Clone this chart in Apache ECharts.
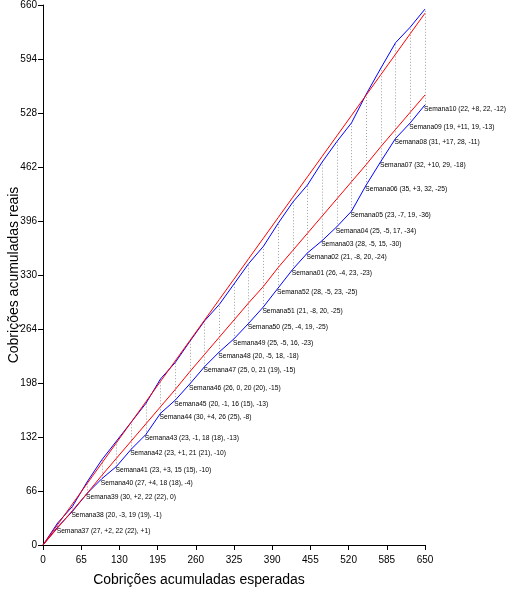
<!DOCTYPE html>
<html>
<head>
<meta charset="utf-8">
<script src="https://cdn.jsdelivr.net/npm/echarts@6/dist/echarts.min.js"></script>
<style>html,body{margin:0;padding:0;background:#fff}#c{width:509px;height:595px}</style>
</head>
<body>
<div id="c"></div>
<script>
// Data
const semanas = ['Semana37','Semana38','Semana39','Semana40','Semana41','Semana42','Semana43','Semana44','Semana45','Semana46','Semana47','Semana48','Semana49','Semana50','Semana51','Semana52','Semana01','Semana02','Semana03','Semana04','Semana05','Semana06','Semana07','Semana08','Semana09','Semana10'];
const esperadasSemana = [25,25,25,25,25,25,25,25,25,25,25,25,25,25,25,25,25,25,25,25,25,25,25,25,25,25];
const reaisSemana = [27,20,30,27,23,23,23,30,20,26,25,20,25,25,21,28,26,21,28,25,23,35,32,31,19,22];
const desvioReais = [2,-3,2,4,3,1,-1,4,-1,0,0,-5,-5,-4,-8,-5,-4,-8,-5,-5,-7,3,10,17,11,8];
const valorC = [22,19,22,18,15,21,18,26,16,20,21,18,16,19,20,23,23,20,15,17,19,32,29,28,19,22];
const valorCParen = [22,19,22,18,15,21,18,25,15,20,19,null,null,null,null,null,null,null,null,null,null,null,null,null,null,null];
const desvioC = [1,-1,0,-4,-10,-10,-13,-8,-13,-15,-15,-18,-23,-25,-25,-25,-23,-24,-30,-34,-36,-25,-18,-11,-13,-12];

function sign(v){ return v > 0 ? '+' + v : String(v); }

// cumulative series
const xs = [0], yReal = [0], yC = [0], yMeta = [0];
for (let i = 0; i < semanas.length; i++) {
  xs.push(xs[i] + esperadasSemana[i]);
  yReal.push(yReal[i] + reaisSemana[i]);
  yC.push(yC[i] + valorC[i]);
}
for (let i = 1; i < xs.length; i++) yMeta.push(yC[i] - desvioC[i-1]);

const diagData = xs.map(x => [x, x]);
const realData = xs.map((x, i) => [x, yReal[i]]);
const metaData = xs.map((x, i) => [x, yMeta[i]]);
const labelTexts = [''];
for (let k = 0; k < semanas.length; k++) {
  const cTxt = valorCParen[k] != null ? valorC[k] + ' (' + valorCParen[k] + ')' : String(valorC[k]);
  labelTexts.push(semanas[k] + ' (' + reaisSemana[k] + ', ' + sign(desvioReais[k]) + ', ' + cTxt + ', ' + sign(desvioC[k]) + ')');
}
const cData = xs.map((x, i) => [x, yC[i]]);
const vlines = xs.slice(1).map((x, k) => ({ coords: [[x, yC[k+1]], [x, yReal[k+1]]] }));

const chart = echarts.init(document.getElementById('c'), null, { renderer: 'canvas' });
const FF = 'Liberation Sans, Arial, sans-serif';
chart.setOption({
  animation: false,
  backgroundColor: '#fff',
  grid: { left: 43, right: 84, top: 5, bottom: 50, outerBoundsMode: 'none' },
  xAxis: {
    type: 'value', min: 0, max: 650, interval: 65,
    name: 'Cobrições acumuladas esperadas', nameLocation: 'middle', nameGap: 28, nameMoveOverlap: false,
    nameTextStyle: { fontFamily: FF, fontSize: 14, color: '#000', padding: [0, 70, 0, 0] },
    axisLine: { show: true, onZero: false, lineStyle: { color: '#000', width: 1 } },
    axisTick: { show: true, length: 5, lineStyle: { color: '#000' } },
    axisLabel: { margin: 10, fontFamily: FF, fontSize: 10, color: '#000' },
    splitLine: { show: false }
  },
  yAxis: {
    type: 'value', min: 0, max: 660, interval: 66,
    name: 'Cobrições acumuladas reais', nameLocation: 'middle', nameGap: 22, nameMoveOverlap: false,
    nameTextStyle: { fontFamily: FF, fontSize: 14, color: '#000' },
    axisLine: { show: true, onZero: false, lineStyle: { color: '#000', width: 1 } },
    axisTick: { show: true, length: 5, lineStyle: { color: '#000' } },
    axisLabel: { margin: 6, fontFamily: FF, fontSize: 10, color: '#000' },
    splitLine: { show: false }
  },
  series: [
    {
      type: 'lines', coordinateSystem: 'cartesian2d', silent: true,
      lineStyle: { color: '#a0a0a0', width: 1, type: [1, 2], opacity: 1 },
      data: vlines, z: 1
    },
    {
      type: 'line', data: realData, showSymbol: false, symbol: 'none', silent: true,
      lineStyle: { color: '#0000ff', width: 1 }, z: 2
    },
    {
      type: 'line', data: cData, showSymbol: true, symbol: 'circle', symbolSize: 0, silent: true,
      itemStyle: { color: '#0000ff' },
      lineStyle: { color: '#0000ff', width: 1 }, z: 2,
      label: { show: true, position: 'right', distance: 0,
        formatter: p => labelTexts[p.dataIndex],
        fontFamily: FF, fontSize: 6.7, color: '#000' },
      labelLayout: { hideOverlap: false, dx: -1, dy: 4 }
    },
    {
      type: 'line', data: diagData, showSymbol: false, symbol: 'none', silent: true,
      lineStyle: { color: '#ff0000', width: 1 }, z: 3
    },
    {
      type: 'line', data: metaData, showSymbol: false, symbol: 'none', silent: true,
      lineStyle: { color: '#ff0000', width: 1 }, z: 3
    }
  ]
});
</script>
</body>
</html>
